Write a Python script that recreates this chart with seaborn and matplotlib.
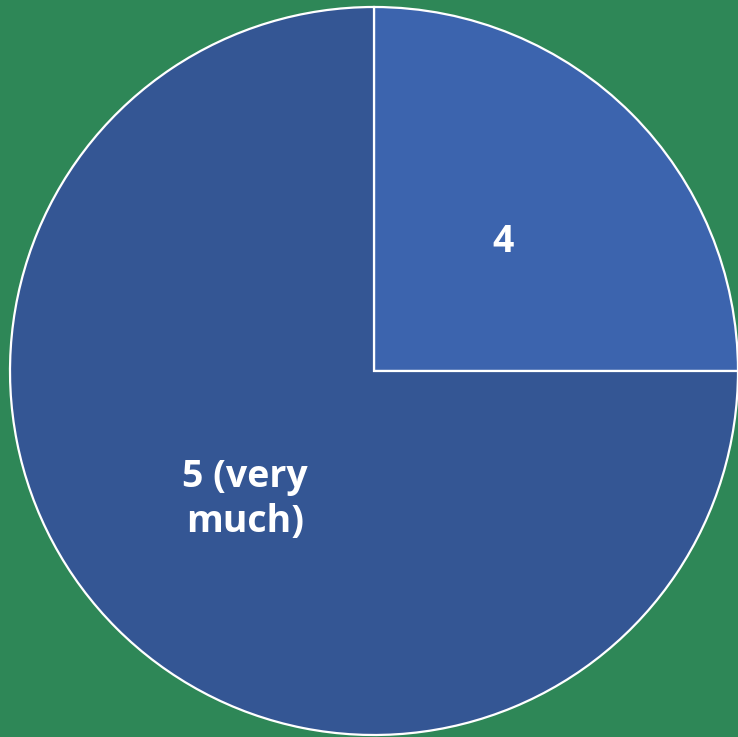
import matplotlib
matplotlib.use("Agg")
import matplotlib.pyplot as plt
import seaborn as sns

# survey answers and their share of responses
labels = ["4", "5 (very\nmuch)"]
shares = [25, 75]
colors = ["#3c64ae", "#345694"]

sns.set_theme(style="white")
plt.rcParams["font.family"] = ["Open Sans", "DejaVu Sans"]

W, H = 738, 737
fig = plt.figure(figsize=(W / 100, H / 100), dpi=100)
fig.patch.set_facecolor("#2e8757")

cx, cy, r = 374, 371, 364
ax = fig.add_axes([(cx - r) / W, (H - cy - r) / H, 2 * r / W, 2 * r / H])
ax.set_facecolor("none")

wedges, texts = ax.pie(
    shares,
    labels=labels,
    colors=colors,
    startangle=90,
    counterclock=False,
    labeldistance=0.5,
    wedgeprops={"edgecolor": "white", "linewidth": 1.6},
    textprops={"color": "white", "fontsize": 27, "fontweight": "bold",
               "ha": "center", "va": "center", "linespacing": 1.25},
)

ax.set_xlim(-1, 1)
ax.set_ylim(-1, 1)
ax.set_aspect("equal")
ax.axis("off")

fig.savefig("out.png", dpi=100, facecolor=fig.get_facecolor())
plt.close(fig)
